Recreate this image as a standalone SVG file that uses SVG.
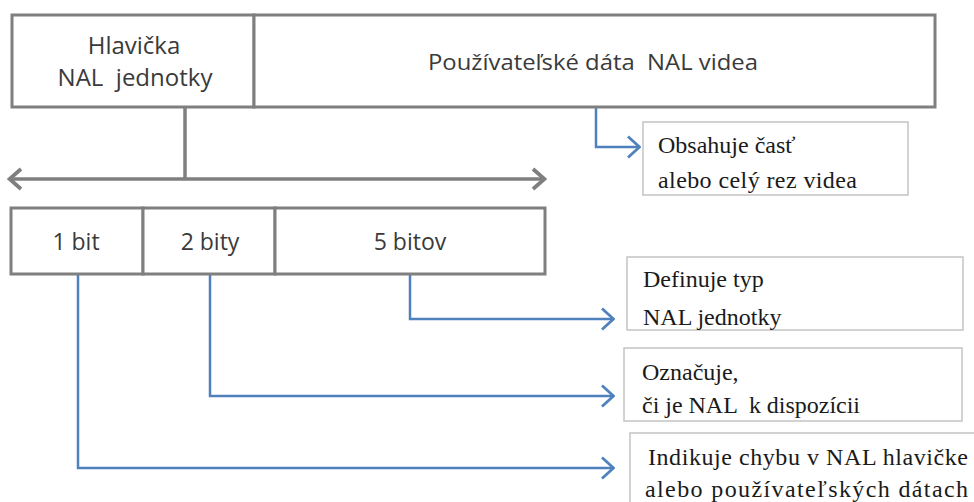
<svg xmlns="http://www.w3.org/2000/svg" width="974" height="502" viewBox="0 0 974 502">
<defs>
<style>
.box{fill:#fff;stroke:#7f7f7f;stroke-width:3}
.note{fill:#fff;stroke:#c4c4c4;stroke-width:1.5}
.sans{font-family:"Open Sans","Liberation Sans",sans-serif;font-size:21px;fill:#3a3a3a;text-anchor:middle;white-space:pre}
.big{font-size:24px}
.bit{font-size:23px}
.serif{font-family:"Liberation Serif","Times New Roman",serif;font-size:24px;fill:#1a1a1a;white-space:pre}
.gray{fill:none;stroke:#7f7f7f;stroke-width:3.5}
.blue{fill:none;stroke:#4f81bd;stroke-width:2.5}
</style>
<marker id="bh" viewBox="0 0 14 24" refX="13" refY="12" markerWidth="14" markerHeight="24" markerUnits="userSpaceOnUse" orient="auto">
<path d="M1,1.5 L12.5,12 L1,22.5" fill="none" stroke="#4f81bd" stroke-width="2.8"/>
</marker>
<marker id="gh" viewBox="0 0 16 24" refX="14" refY="12" markerWidth="16" markerHeight="24" markerUnits="userSpaceOnUse" orient="auto-start-reverse">
<path d="M2,2 L13.5,12 L2,22" fill="none" stroke="#7f7f7f" stroke-width="3.8"/>
</marker>
</defs>
<rect width="974" height="502" fill="#fff"/>
<g id="connectors">
<path class="gray" d="M185,107 L185,179"/>
<path class="gray" d="M9,179 L545,179" marker-start="url(#gh)" marker-end="url(#gh)"/>
<path class="blue" d="M596,107 L596,147 L640,147" marker-end="url(#bh)"/>
<path class="blue" d="M410,274 L410,319 L614,319" marker-end="url(#bh)"/>
<path class="blue" d="M210,274 L210,396 L614,396" marker-end="url(#bh)"/>
<path class="blue" d="M78,274 L78,468 L614,468" marker-end="url(#bh)"/>
</g>
<g id="header">
<rect class="box" x="12" y="15" width="242" height="92"/>
<text class="sans big" x="134" y="54">Hlavička</text>
<text class="sans big" x="135" y="86">NAL  jednotky</text>
</g>
<g id="payload">
<rect class="box" x="254" y="15" width="681" height="92"/>
<text class="sans" x="593" y="70" textLength="330" lengthAdjust="spacingAndGlyphs">Používateľské dáta  NAL videa</text>
</g>
<g id="bit1">
<rect class="box" x="11" y="208" width="132" height="66"/>
<text class="sans bit" x="76" y="250">1 bit</text>
</g>
<g id="bit2">
<rect class="box" x="143" y="208" width="132" height="66"/>
<text class="sans bit" x="210" y="250">2 bity</text>
</g>
<g id="bit5">
<rect class="box" x="275" y="208" width="270" height="66"/>
<text class="sans bit" x="410" y="250">5 bitov</text>
</g>
<g id="note1">
<rect class="note" x="643" y="122" width="265" height="73"/>
<text class="serif" x="658" y="153">Obsahuje časť</text>
<text class="serif" x="658" y="188" textLength="199" lengthAdjust="spacing">alebo celý rez videa</text>
</g>
<g id="note2">
<rect class="note" x="627" y="257" width="336" height="73"/>
<text class="serif" x="643" y="287">Definuje typ</text>
<text class="serif" x="643" y="325">NAL jednotky</text>
</g>
<g id="note3">
<rect class="note" x="624" y="348" width="338" height="73"/>
<text class="serif" x="642" y="380">Označuje,</text>
<text class="serif" x="642" y="413" textLength="218" lengthAdjust="spacing">či je NAL  k dispozícii</text>
</g>
<g id="note4">
<rect class="note" x="630" y="433" width="350" height="80"/>
<text class="serif" x="648" y="465" textLength="320" lengthAdjust="spacing">Indikuje chybu v NAL hlavičke</text>
<text class="serif" x="645" y="497" textLength="323" lengthAdjust="spacing">alebo používateľských dátach</text>
</g>
</svg>
